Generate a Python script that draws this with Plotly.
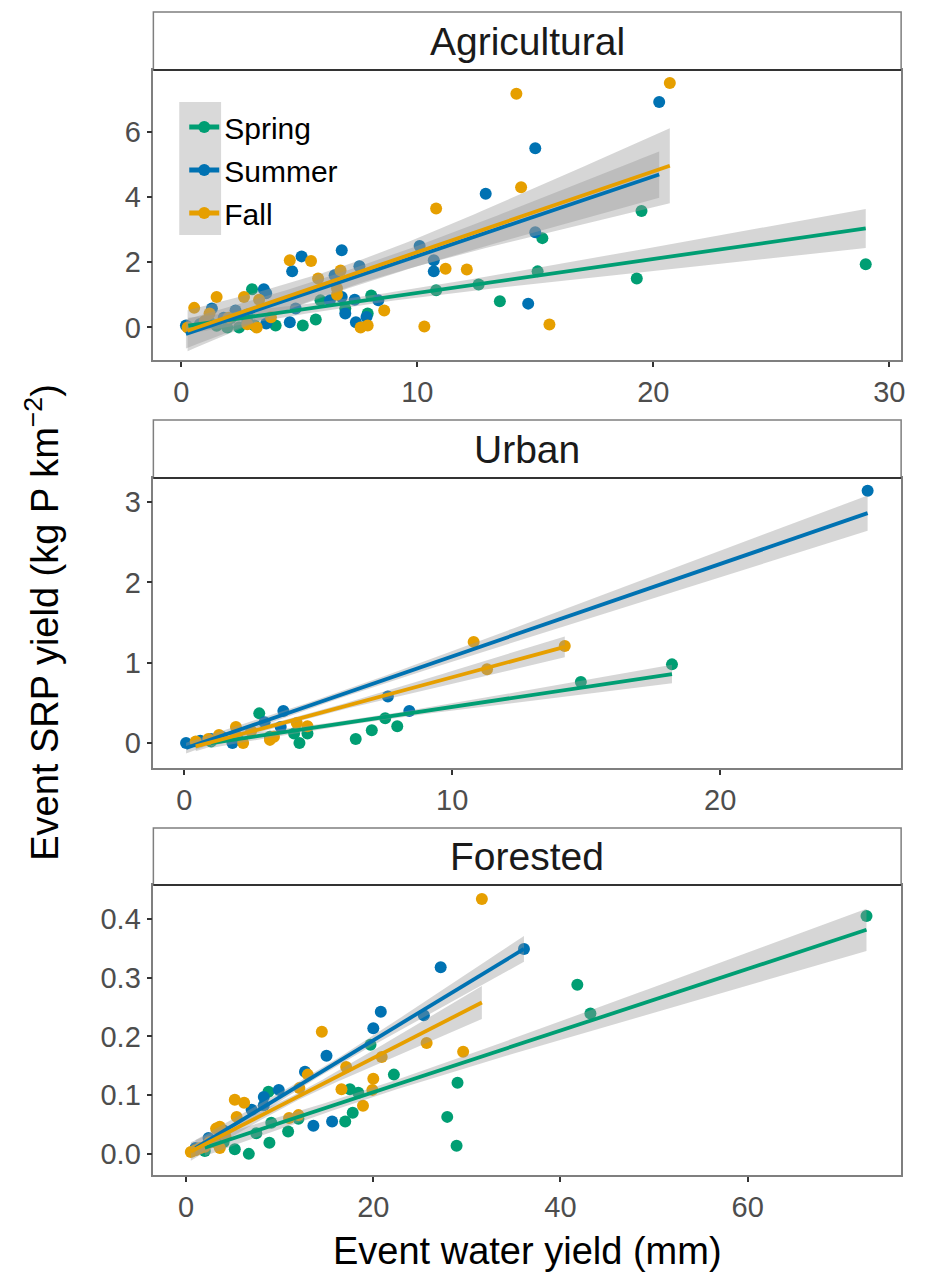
import numpy as np
import plotly.graph_objects as go

# ---------------- data ----------------
panels = ["Agricultural", "Urban", "Forested"]
seasons = ["Spring", "Summer", "Fall"]
colors = {"Spring": "#009E73", "Summer": "#0072B2", "Fall": "#E69F00"}

agr_spring_x = [0.3, 0.8, 1.5, 1.95, 2.1, 2.45, 3.0, 3.1, 4.0, 5.15, 5.7, 5.9, 6.95, 7.9, 8.05, 10.8, 12.6, 13.5, 15.1, 15.3, 19.3, 19.5, 29.0, 1.2, 2.8]
agr_spring_y = [0.0, 0.1, 0.05, 0.0, 0.28, 0.0, 1.17, 0.06, 0.06, 0.06, 0.24, 0.83, 0.58, 0.43, 0.98, 1.14, 1.32, 0.8, 1.72, 2.74, 1.5, 3.57, 1.94, 0.15, 0.2]
agr_summer_x = [0.2, 1.3, 2.3, 3.5, 3.6, 3.6, 4.6, 4.85, 4.7, 5.1, 6.3, 6.5, 6.8, 6.8, 6.95, 7.35, 7.55, 7.4, 7.85, 8.35, 10.1, 10.7, 10.7, 12.9, 14.7, 15.0, 15.0, 20.25, 0.8, 1.8, 2.8]
agr_summer_y = [0.06, 0.58, 0.52, 1.17, 1.05, 0.12, 0.16, 0.58, 1.72, 2.18, 0.83, 1.6, 2.37, 0.93, 0.43, 0.85, 1.88, 0.16, 0.32, 0.83, 2.5, 2.06, 1.72, 4.1, 0.73, 5.5, 2.92, 6.92, 0.1, 0.3, 0.4]
agr_fall_x = [0.27, 0.55, 1.2, 1.5, 2.66, 2.8, 3.2, 3.3, 3.8, 4.6, 5.5, 5.8, 6.6, 6.6, 6.75, 7.6, 7.9, 8.6, 10.3, 10.8, 11.2, 12.1, 14.2, 14.4, 15.6, 20.7, 1.0, 2.0]
agr_fall_y = [0.0, 0.6, 0.43, 0.93, 0.93, 0.1, 0.0, 0.85, 0.31, 2.06, 2.04, 1.5, 1.2, 1.0, 1.75, 0.0, 0.06, 0.52, 0.03, 3.65, 1.8, 1.78, 7.17, 4.3, 0.09, 7.5, 0.2, 0.3]

urb_spring_x = [2.8, 4.1, 4.3, 4.6, 6.4, 7.0, 7.5, 7.95, 14.8, 18.2, 1.0, 2.0, 3.2]
urb_spring_y = [0.37, 0.12, 0.0, 0.12, 0.05, 0.16, 0.31, 0.21, 0.76, 0.98, 0.02, 0.05, 0.08]
urb_summer_x = [0.07, 0.6, 1.0, 1.8, 3.0, 3.6, 3.7, 7.6, 8.4, 25.5, 1.4]
urb_summer_y = [0.0, 0.03, 0.05, 0.0, 0.26, 0.2, 0.40, 0.58, 0.40, 3.14, 0.08]
urb_fall_x = [0.43, 1.3, 1.93, 1.93, 2.2, 3.2, 3.35, 4.2, 4.6, 10.8, 11.3, 14.2, 0.9, 2.5]
urb_fall_y = [0.02, 0.1, 0.2, 0.1, 0.0, 0.04, 0.08, 0.25, 0.21, 1.26, 0.92, 1.21, 0.05, 0.15]

for_spring_x = [5.2, 6.7, 7.5, 8.8, 8.9, 9.1, 10.9, 17.0, 17.5, 17.8, 18.4, 19.7, 22.2, 27.9, 28.9, 29.0, 41.8, 43.2, 72.7, 2.0, 4.0, 12.0]
for_spring_y = [0.008, 0.0, 0.035, 0.106, 0.019, 0.053, 0.038, 0.055, 0.11, 0.07, 0.104, 0.186, 0.135, 0.063, 0.014, 0.121, 0.288, 0.239, 0.405, 0.005, 0.02, 0.06]
for_summer_x = [2.4, 7.0, 8.3, 8.3, 9.9, 12.7, 13.6, 15.0, 15.6, 20.0, 20.8, 25.4, 27.2, 36.1, 1.0, 4.0]
for_summer_y = [0.027, 0.075, 0.097, 0.083, 0.109, 0.14, 0.048, 0.167, 0.055, 0.214, 0.242, 0.236, 0.318, 0.349, 0.01, 0.04]
for_fall_x = [0.5, 1.5, 3.2, 3.6, 3.6, 5.2, 5.4, 6.2, 11.0, 12.0, 12.1, 13.0, 14.5, 16.6, 17.1, 18.9, 19.9, 20.0, 20.9, 25.7, 29.6, 31.6, 2.5, 1.0, 2.0, 3.0, 4.2]
for_fall_y = [0.003, 0.01, 0.043, 0.046, 0.01, 0.092, 0.063, 0.087, 0.061, 0.066, 0.112, 0.135, 0.208, 0.11, 0.148, 0.082, 0.109, 0.128, 0.165, 0.189, 0.174, 0.434, 0.02, 0.006, 0.012, 0.02, 0.03]

# linear-fit parameters (order: Spring, Summer, Fall)
agr_fit_intercept = [0.02, -0.25, -0.17]
agr_fit_slope = [0.104, 0.244, 0.248]
agr_band_min = [0.13, 0.28, 0.35]      # narrowest 95% CI half-width
agr_band_end = [0.60, 0.71, 1.15]      # CI half-width at the largest x
urb_fit_intercept = [-0.05, -0.07, -0.08]
urb_fit_slope = [0.050, 0.115, 0.090]
urb_band_min = [0.03, 0.04, 0.03]
urb_band_end = [0.115, 0.22, 0.13]
for_fit_intercept = [0.0, 0.0, 0.0]
for_fit_slope = [0.00525, 0.00967, 0.00816]
for_band_min = [0.008, 0.006, 0.006]
for_band_end = [0.036, 0.022, 0.028]

x_tick_vals = [[0, 10, 20, 30], [0, 10, 20], [0, 20, 40, 60]]
y_tick_vals = [[0, 2, 4, 6], [0, 1, 2, 3], [0.0, 0.1, 0.2, 0.3, 0.4]]
y_tick_text = [["0", "2", "4", "6"], ["0", "1", "2", "3"], ["0.0", "0.1", "0.2", "0.3", "0.4"]]
x_ranges = [[-1.18, 30.5], [-1.15, 26.75], [-3.5, 76.4]]
y_ranges = [[-1.0, 7.9], [-0.31, 3.3], [-0.036, 0.458]]

data = {
    "Agricultural": {"Spring": (agr_spring_x, agr_spring_y), "Summer": (agr_summer_x, agr_summer_y), "Fall": (agr_fall_x, agr_fall_y)},
    "Urban": {"Spring": (urb_spring_x, urb_spring_y), "Summer": (urb_summer_x, urb_summer_y), "Fall": (urb_fall_x, urb_fall_y)},
    "Forested": {"Spring": (for_spring_x, for_spring_y), "Summer": (for_summer_x, for_summer_y), "Fall": (for_fall_x, for_fall_y)},
}
fits = {
    "Agricultural": (agr_fit_intercept, agr_fit_slope, agr_band_min, agr_band_end),
    "Urban": (urb_fit_intercept, urb_fit_slope, urb_band_min, urb_band_end),
    "Forested": (for_fit_intercept, for_fit_slope, for_band_min, for_band_end),
}

# ---------------- layout geometry (pixels of the page) ----------------
W, H = 926, 1274
OFF = 8  # page body margin
px_left, px_right = 154, 905
plot_px = [(70, 360), (478, 768), (885, 1175)]
strip_px = [(12, 70), (420, 478), (828, 885)]
FONT = "Liberation Sans, Arial, sans-serif"


def fx(px):
    return (px - OFF) / W


def fy(py):
    return 1 - (py - OFF) / H


def fit_curve(p, k):
    x = np.asarray(data[p][seasons[k]][0], float)
    a, b, hmin, hend = (v[k] for v in fits[p])
    xs = np.linspace(x.min(), x.max(), 80)
    xc = x.mean()
    d1 = x.max() - xc
    B = (hend**2 - hmin**2) / d1**2
    half = np.sqrt(hmin**2 + B * (xs - xc) ** 2)
    yh = a + b * xs
    return xs, yh, yh - half, yh + half


fig = go.Figure()

for i, p in enumerate(panels):
    xa = "x" if i == 0 else f"x{i+1}"
    ya = "y" if i == 0 else f"y{i+1}"
    for s in seasons:
        x, y = data[p][s]
        fig.add_trace(go.Scatter(x=x, y=y, mode="markers", xaxis=xa, yaxis=ya,
                                 marker=dict(size=12, color=colors[s]), showlegend=False,
                                 hoverinfo="skip"))
    for k, s in enumerate(seasons):
        xs, yh, lo, hi = fit_curve(p, k)
        fig.add_trace(go.Scatter(x=np.concatenate([xs, xs[::-1]]), y=np.concatenate([hi, lo[::-1]]),
                                 fill="toself", mode="lines", line=dict(width=0),
                                 fillcolor="rgba(153,153,153,0.4)", xaxis=xa, yaxis=ya,
                                 showlegend=False, hoverinfo="skip"))
    for k, s in enumerate(seasons):
        xs, yh, lo, hi = fit_curve(p, k)
        fig.add_trace(go.Scatter(x=xs, y=yh, mode="lines", line=dict(width=3.8, color=colors[s]),
                                 xaxis=xa, yaxis=ya, showlegend=False, hoverinfo="skip"))

# legend-only traces
for s in seasons:
    fig.add_trace(go.Scatter(x=[None], y=[None], mode="lines+markers", name=s, legendgroup=s,
                             line=dict(width=3.8, color=colors[s]), marker=dict(size=11, color=colors[s])))

axis_common = dict(showgrid=False, zeroline=False, showline=True, mirror=True,
                   linecolor="#7f7f7f", linewidth=1.5, ticks="outside", ticklen=5,
                   tickwidth=1.5, tickcolor="#333333",
                   tickfont=dict(family=FONT, size=29, color="#4d4d4d"))

layout = {}
shapes = []
annotations = []
for i, p in enumerate(panels):
    y0p, y1p = plot_px[i]
    xk = "xaxis" if i == 0 else f"xaxis{i+1}"
    yk = "yaxis" if i == 0 else f"yaxis{i+1}"
    anchor_x = "y" if i == 0 else f"y{i+1}"
    anchor_y = "x" if i == 0 else f"x{i+1}"
    layout[xk] = dict(axis_common, domain=[fx(px_left), fx(px_right)], anchor=anchor_x, range=x_ranges[i],
                      tickmode="array", tickvals=x_tick_vals[i],
                      ticktext=[str(v) for v in x_tick_vals[i]])
    layout[yk] = dict(axis_common, domain=[fy(y1p), fy(y0p)], anchor=anchor_y, range=y_ranges[i],
                      tickmode="array", tickvals=y_tick_vals[i], ticktext=y_tick_text[i])
    s0, s1 = strip_px[i]
    shapes.append(dict(type="rect", xref="paper", yref="paper", x0=fx(px_left), x1=fx(px_right),
                       y0=fy(s1), y1=fy(s0), fillcolor="white",
                       line=dict(color="#7f7f7f", width=1.5)))
    shapes.append(dict(type="line", xref="paper", yref="paper", x0=fx(px_left), x1=fx(px_right),
                       y0=fy(s1), y1=fy(s1), line=dict(color="#333333", width=2)))
    annotations.append(dict(text=p, xref="paper", yref="paper", x=fx((px_left + px_right) / 2),
                            y=fy((s0 + s1) / 2), showarrow=False, xanchor="center", yanchor="middle",
                            font=dict(family=FONT, size=39, color="#1a1a1a")))

# legend key background
shapes.append(dict(type="rect", xref="paper", yref="paper", x0=fx(180), x1=fx(222),
                   y0=fy(235), y1=fy(102), fillcolor="#d9d9d9", line=dict(width=0),
                   layer="below"))

annotations.append(dict(text="Event water yield (mm)", xref="paper", yref="paper",
                        x=fx(530), y=fy(1251), showarrow=False, xanchor="center", yanchor="middle",
                        font=dict(family=FONT, size=38, color="black")))
annotations.append(dict(text="Event SRP yield (kg P km<sup>−2</sup>)", xref="paper", yref="paper",
                        x=fx(42), y=fy(622), showarrow=False, textangle=-90,
                        xanchor="center", yanchor="middle",
                        font=dict(family=FONT, size=38, color="black")))

fig.update_layout(**layout)
fig.update_layout(width=W, height=H, margin=dict(l=0, r=0, t=0, b=0),
                  paper_bgcolor="white", plot_bgcolor="white",
                  shapes=shapes, annotations=annotations,
                  showlegend=True,
                  legend=dict(x=fx(185), y=fy(101), xanchor="left", yanchor="top",
                              bgcolor="rgba(0,0,0,0)", tracegroupgap=1,
                              font=dict(family=FONT, size=30, color="black"),
                              itemsizing="constant"))

fig.write_html("out.html")
